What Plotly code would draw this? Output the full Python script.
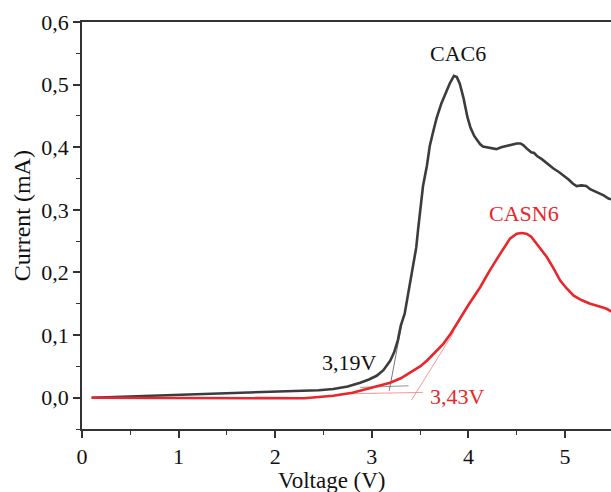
import plotly.graph_objects as go

# CAC6 curve
cac6_x = [0.1, 0.5, 1.0, 1.5, 2.0, 2.26, 2.45, 2.6, 2.75, 2.88, 2.97, 3.05, 3.12, 3.19, 3.23, 3.27,
          3.30, 3.34, 3.37, 3.40, 3.43, 3.46, 3.48, 3.50, 3.53, 3.57, 3.60, 3.64, 3.67, 3.72, 3.76,
          3.81, 3.85, 3.88, 3.91, 3.95, 3.99, 4.02, 4.06, 4.09, 4.12, 4.15, 4.19, 4.24, 4.29, 4.34,
          4.40, 4.46, 4.50, 4.54, 4.57, 4.61, 4.65, 4.68, 4.71, 4.76, 4.82, 4.88, 4.94, 5.00, 5.04,
          5.08, 5.12, 5.17, 5.22, 5.26, 5.30, 5.35, 5.40, 5.45, 5.5]
cac6_y = [0.000, 0.002, 0.005, 0.007, 0.009, 0.011, 0.012, 0.014, 0.018, 0.024, 0.029, 0.035, 0.044,
          0.059, 0.072, 0.092, 0.115, 0.134, 0.160, 0.185, 0.212, 0.240, 0.270, 0.300, 0.338, 0.370,
          0.402, 0.428, 0.446, 0.470, 0.486, 0.503, 0.514, 0.512, 0.502, 0.478, 0.448, 0.432, 0.418,
          0.412, 0.405, 0.401, 0.400, 0.398, 0.397, 0.400, 0.402, 0.405, 0.406, 0.406, 0.403, 0.397,
          0.392, 0.391, 0.386, 0.381, 0.373, 0.366, 0.360, 0.353, 0.348, 0.342, 0.338, 0.339, 0.338,
          0.333, 0.330, 0.327, 0.323, 0.318, 0.316]

# CASN6 curve
casn6_x = [0.1, 0.5, 1.0, 1.5, 2.0, 2.3, 2.45, 2.6, 2.8, 2.95, 3.1, 3.19, 3.3, 3.4, 3.5, 3.57, 3.65,
           3.74, 3.82, 3.91, 4.0, 4.12, 4.22, 4.33, 4.43, 4.50, 4.55, 4.60, 4.65, 4.72, 4.81, 4.88,
           4.95, 5.02, 5.09, 5.17, 5.26, 5.35, 5.43, 5.5]
casn6_y = [0.000, 0.000, 0.000, 0.000, 0.000, -0.001, 0.001, 0.003, 0.008, 0.014, 0.020, 0.024,
           0.031, 0.040, 0.050, 0.059, 0.071, 0.086, 0.103, 0.126, 0.148, 0.176, 0.203, 0.230,
           0.254, 0.262, 0.263, 0.262, 0.257, 0.243, 0.225, 0.207, 0.187, 0.174, 0.163, 0.156,
           0.150, 0.146, 0.142, 0.136]

# Onset tangent lines
cac6_tan_steep_x = [3.18, 3.33]
cac6_tan_steep_y = [0.011, 0.134]
cac6_tan_base_x = [2.88, 3.38]
cac6_tan_base_y = [0.0165, 0.019]
casn6_tan_steep_x = [3.41, 3.85]
casn6_tan_steep_y = [-0.004, 0.105]
casn6_tan_base_x = [2.67, 3.53]
casn6_tan_base_y = [0.006, 0.0085]

x_ticks = [0, 1, 2, 3, 4, 5]
y_ticks = [0.0, 0.1, 0.2, 0.3, 0.4, 0.5, 0.6]

BLACK = "#3c3c3c"
RED = "#e8262b"
FONT = "Liberation Serif"

fig = go.Figure()
fig.add_trace(go.Scatter(x=cac6_tan_steep_x, y=cac6_tan_steep_y, mode="lines",
                         line=dict(color="#555555", width=0.8), showlegend=False))
fig.add_trace(go.Scatter(x=cac6_tan_base_x, y=cac6_tan_base_y, mode="lines",
                         line=dict(color="#777777", width=0.8), showlegend=False))
fig.add_trace(go.Scatter(x=casn6_tan_steep_x, y=casn6_tan_steep_y, mode="lines",
                         line=dict(color="#f08080", width=0.8), showlegend=False))
fig.add_trace(go.Scatter(x=casn6_tan_base_x, y=casn6_tan_base_y, mode="lines",
                         line=dict(color="#f08080", width=0.8), showlegend=False))
fig.add_trace(go.Scatter(x=cac6_x, y=cac6_y, mode="lines", name="CAC6",
                         line=dict(color=BLACK, width=2.6), showlegend=False))
fig.add_trace(go.Scatter(x=casn6_x, y=casn6_y, mode="lines", name="CASN6",
                         line=dict(color=RED, width=2.6), showlegend=False))

anns = [
    dict(x=3.89, y=0.549, text="CAC6", color="#111111"),
    dict(x=4.58, y=0.294, text="CASN6", color=RED),
    dict(x=2.77, y=0.056, text="3,19V", color="#111111"),
    dict(x=3.89, y=0.002, text="3,43V", color=RED),
]
for a in anns:
    fig.add_annotation(x=a["x"], y=a["y"], xref="x", yref="y", text=a["text"], showarrow=False,
                       font=dict(family=FONT, size=22, color=a["color"]),
                       xanchor="center", yanchor="middle")

fig.add_annotation(x=2.59, y=-0.127, xref="x", yref="paper", text="Voltage (V)", showarrow=False,
                   font=dict(family=FONT, size=23, color="#111111"), xanchor="center", yanchor="middle")
fig.add_annotation(x=-0.113, y=0.523, xref="paper", yref="paper", text="Current (mA)", showarrow=False,
                   textangle=-90, font=dict(family=FONT, size=24, color="#111111"),
                   xanchor="center", yanchor="middle")

axis_common = dict(showgrid=False, zeroline=False, showline=True, linecolor="#333333", linewidth=1.6,
                   ticks="outside", ticklen=7, tickwidth=1.6, tickcolor="#333333",
                   tickfont=dict(family=FONT, size=22, color="#111111"))

fig.update_xaxes(range=[0, 5.476], tickvals=x_ticks, ticktext=[str(v) for v in x_ticks],
                 mirror=True, minor=dict(ticks="outside", ticklen=4, tickwidth=1.4, tickcolor="#333333",
                                         dtick=0.5, tick0=0),
                 **axis_common)
fig.update_yaxes(range=[-0.05, 0.6], tickvals=y_ticks, tickformat=".1f",
                 minor=dict(ticks="outside", ticklen=4, tickwidth=1.4, tickcolor="#333333",
                            dtick=0.05, tick0=0.05),
                 **axis_common)

fig.update_layout(width=611, height=492, margin=dict(l=82, r=0, t=22, b=63),
                  plot_bgcolor="white", paper_bgcolor="white", separators=",.",
                  font=dict(family=FONT))

fig.write_html("out.html")
